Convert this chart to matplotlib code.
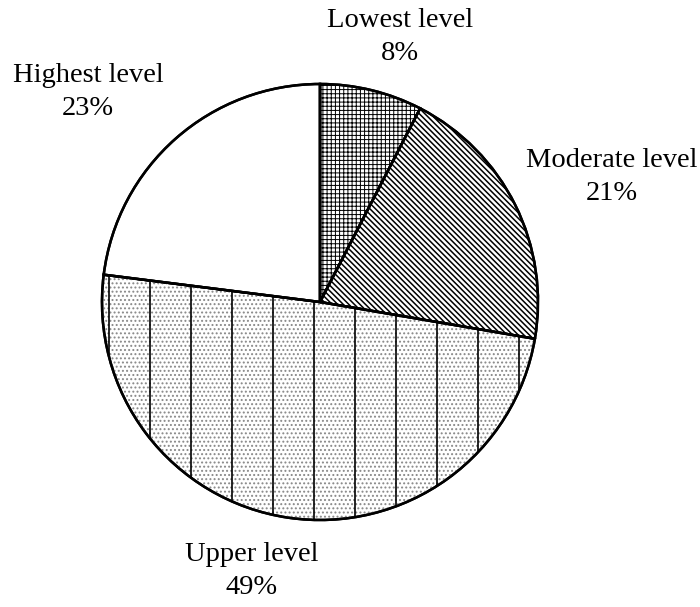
import numpy as np
import matplotlib
matplotlib.use('Agg')
import matplotlib.pyplot as plt

# Data (shares of the circle, clockwise from 12 o'clock)
categories = ['Lowest level', 'Moderate level', 'Upper level', 'Highest level']
shares = [7.6, 20.1, 49.3, 23.0]
pct_labels = ['8%', '21%', '49%', '23%']
hatches = ['++++', '\\' * 6, '', '']
hatch_lw = [0.7, 1.1, 1.0, 1.0]

plt.rcParams['font.family'] = ['Liberation Serif', 'DejaVu Serif']
plt.rcParams['hatch.linewidth'] = 0.9

W, H = 700, 607
fig = plt.figure(figsize=(W / 100, H / 100), dpi=100)

# pie centre and radius in pixels
cx, cy, r = 320, 302, 218
ax = fig.add_axes([(cx - r) / W, (H - cy - r) / H, 2 * r / W, 2 * r / H])

wedges, _ = ax.pie(shares, startangle=90, counterclock=False, radius=1,
                   colors=['white'] * 4,
                   wedgeprops=dict(edgecolor='black', linewidth=1.8))
for w, h, hl in zip(wedges, hatches, hatch_lw):
    w.set_hatch(h)
    w.set_clip_on(False)
    if hasattr(w, 'set_hatch_linewidth'):
        w.set_hatch_linewidth(hl)

# Upper level: grey dots plus widely spaced vertical lines
upper = wedges[2]
dots = ax.pie(shares, startangle=90, counterclock=False, radius=1,
              colors=['none'] * 4,
              wedgeprops=dict(edgecolor='#888888', linewidth=0))[0]
for i, w in enumerate(dots):
    if i == 2:
        w.set_hatch('....')
        w.set_zorder(upper.get_zorder() + 0.1)
    else:
        w.set_visible(False)

step = 41 / r
xs = np.arange(-6, 6) * step - 6 / r
vl = ax.vlines(xs, -1.1, 1.1, colors='black', linewidth=1.2,
               zorder=upper.get_zorder() + 0.2)
vl.set_clip_path(upper)

# redraw the outlines on top
outline = ax.pie(shares, startangle=90, counterclock=False, radius=1,
                 colors=['none'] * 4,
                 wedgeprops=dict(edgecolor='black', linewidth=1.8))[0]
for w in outline:
    w.set_zorder(upper.get_zorder() + 0.3)
    w.set_clip_on(False)

ax.set_xlim(-1, 1)
ax.set_ylim(-1, 1)
ax.axis('off')

# label positions in pixels (centre of the two-line label)
label_pos = [(400, 37), (612, 177), (252, 571), (88, 92)]
for name, pct, (px, py) in zip(categories, pct_labels, label_pos):
    fig.text(px / W, 1 - py / H, name + '\n' + pct, ha='center', va='center',
             fontsize=20.5, linespacing=1.45)

fig.savefig('out.png', dpi=100)
